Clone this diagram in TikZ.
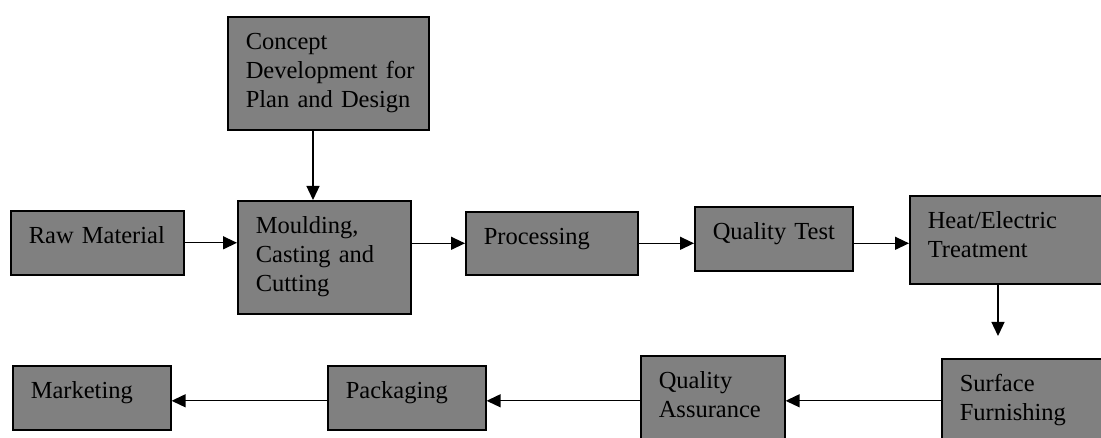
\documentclass[tikz,border=0pt]{standalone}
\usepackage{fontspec}
\setmainfont{Liberation Serif}
\usepackage{tikz}
\usetikzlibrary{arrows.meta,calc}
\definecolor{boxgray}{HTML}{808080}

\begin{document}
\begin{tikzpicture}[x=1pt, y=-1pt, >={Triangle[length=14pt,width=13pt]},
  blk/.style={draw=black, line width=1.6pt, fill=boxgray, anchor=north west,
    align=left, inner xsep=18pt, inner ysep=0pt, text height=33pt,
    font=\fontsize{24.5}{28.8}\selectfont},
  flow/.style={->, line width=1.3pt}]
  \useasboundingbox (0,0) rectangle (1101,438);
  \clip (0,0) rectangle (1101,438);
  % top row
  \node[blk, text width=165pt, text depth=80pt] (concept) at (227,16) {Concept\\Development~for\\Plan~and~Design};
  \node[blk, text width=137pt, text depth=31pt] (raw) at (10,210) {Raw~Material};
  \node[blk, text width=137pt, text depth=80pt] (mould) at (237,200) {Moulding,\\Casting~and\\Cutting};
  \node[blk, text width=136pt, text depth=30pt] (proc) at (465,211) {Processing};
  \node[blk, text width=122pt, text depth=31pt] (qtest) at (694,206) {Quality~Test};
  \node[blk, text width=160pt, text depth=55pt] (heat) at (909,195) {Heat/Electric\\Treatment};
  % bottom row
  \node[blk, text width=134pt, text depth=57pt] (surf) at (941,358) {Surface\\Furnishing};
  \node[blk, text width=108pt, text depth=57pt] (qa) at (640,355) {Quality\\Assurance};
  \node[blk, text width=122pt, text depth=31pt] (pack) at (327,365) {Packaging};
  \node[blk, text width=122pt, text depth=31pt] (mark) at (12,365) {Marketing};
  \coordinate (hend) at (998,336);
  % connectors
  \draw[flow] ([xshift=86pt]concept.south west) -- ([xshift=76pt]mould.north west);
  \draw[flow] (raw.east) -- (raw.east -| mould.west);
  \draw[flow] (proc.west -| mould.east) -- (proc.west);
  \draw[flow] (proc.east) -- (proc.east -| qtest.west);
  \draw[flow] (proc.east -| qtest.east) -- (proc.east -| heat.west);
  \draw[flow] (heat.south west -| hend) -- (hend);
  \draw[flow] (qa.east -| surf.west) -- (qa.east);
  \draw[flow] (qa.west) -- (qa.west -| pack.east);
  \draw[flow] (qa.west -| pack.west) -- (qa.west -| mark.east);
\end{tikzpicture}
\end{document}
